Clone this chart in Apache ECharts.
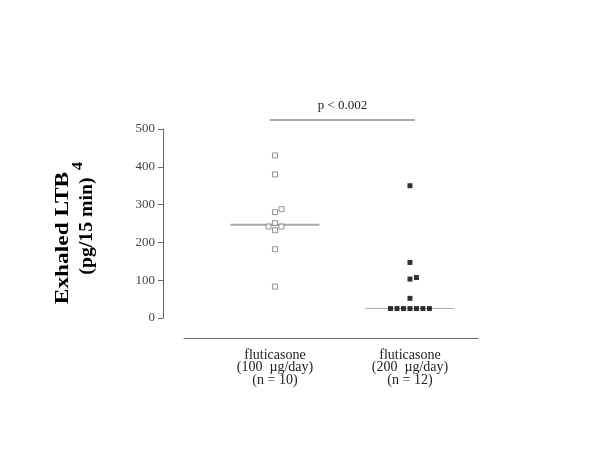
<!DOCTYPE html>
<html>
<head>
<meta charset="utf-8">
<script src="https://cdn.jsdelivr.net/npm/echarts@6/dist/echarts.min.js"></script>
<style>html,body{margin:0;padding:0;background:#fff}#c{width:600px;height:450px}</style>
</head>
<body>
<div id="c"></div>
<script>
// ---- data ----
var categories = ['fluticasone\n(100  \u00b5g/day)\n(n = 10)', 'fluticasone\n(200  \u00b5g/day)\n(n = 12)'];
var group1Values = [430, 380, 280, 288, 251, 242, 242, 232, 182, 83];
var group1Slots  = [0, 0, 0, 1, 0, -1, 1, 0, 0, 0];
var group2Values = [350, 147, 103, 107, 52, 25, 25, 25, 25, 25, 25, 25];
var group2Slots  = [0, 0, 0, 1, 0, -3, -2, -1, 0, 1, 2, 3];
var yTicks = [0, 100, 200, 300, 400, 500];
var pText = 'p < 0.002';
var pLevel = 524;      // bracket height in axis units
var pTextLevel = 561;

// ---- helpers ----
var step = 0.048;      // jitter column width (axis units)
var halfWidth = 0.33;  // half-width of median line
function median(a){var s=a.slice().sort(function(x,y){return x-y;});var n=s.length;return n%2?s[(n-1)/2]:(s[n/2-1]+s[n/2])/2;}
function pts(vals, slots, pos){return vals.map(function(v,i){return [pos + slots[i]*step, v];});}
var serif = '"Liberation Serif", "Times New Roman", serif';

var m1 = median(group1Values), m2 = median(group2Values);

var chart = echarts.init(document.getElementById('c'), null, {renderer:'canvas'});
chart.setOption({
  animation: false,
  backgroundColor: '#fff',
  grid: {left: 184, top: 129, width: 294, height: 189},
  xAxis: {
    type: 'value', min: 0.326, max: 2.504, offset: 20,
    axisLine: {show: true, onZero: false, lineStyle: {color: '#666', width: 1}},
    axisTick: {show: false},
    splitLine: {show: false},
    axisLabel: {
      customValues: [1, 2],
      margin: 11,
      fontFamily: serif, fontSize: 14, color: '#222', lineHeight: 12.5,
      formatter: function(v){ return categories[Math.round(v) - 1] || ''; }
    }
  },
  yAxis: {
    type: 'value', min: yTicks[0], max: yTicks[yTicks.length-1], interval: 100, offset: 21,
    axisLine: {show: true, onZero: false, lineStyle: {color: '#666', width: 1}},
    axisTick: {show: true, length: 5, lineStyle: {color: '#666'}},
    splitLine: {show: false},
    axisLabel: {margin: 8, fontFamily: serif, fontSize: 13, color: '#444'}
  },
  series: [
    {type: 'line', data: [[1-halfWidth, m1],[1+halfWidth, m1]], symbol: 'none',
     lineStyle: {color: '#aaa', width: 2}, z: 1, silent: true},
    {type: 'line', data: [[2-halfWidth, m2],[2+halfWidth, m2]], symbol: 'none',
     lineStyle: {color: '#aaa', width: 1}, z: 1, silent: true},
    {type: 'line', data: [[1-0.037, pLevel],[2+0.037, pLevel]], symbol: 'none', clip: false,
     lineStyle: {color: '#aaa', width: 2}, z: 1, silent: true},
    {type: 'scatter', data: pts(group1Values, group1Slots, 1), symbol: 'rect', symbolSize: 5,
     itemStyle: {color: '#fff', borderColor: '#777', borderWidth: 1}, z: 3},
    {type: 'scatter', data: pts(group2Values, group2Slots, 2), symbol: 'rect', symbolSize: 5,
     itemStyle: {color: '#000'}, z: 3}
  ]
});

var pp = chart.convertToPixel({gridIndex: 0}, [1.5, pTextLevel]);
chart.setOption({
  graphic: [
    {type: 'text', x: pp[0], y: pp[1], style: {text: pText, font: '13px ' + serif, fill: '#222', align: 'center', verticalAlign: 'middle'}},
    {type: 'text', x: 63, y: 238, rotation: Math.PI/2, scaleX: 1.3,
     style: {text: 'Exhaled LTB', font: 'bold 18px ' + serif, fill: '#000', align: 'center', verticalAlign: 'middle'}},
    {type: 'text', x: 78, y: 166, rotation: Math.PI/2, scaleX: 1.2,
     style: {text: '4', font: 'bold 14px ' + serif, fill: '#000', align: 'center', verticalAlign: 'middle'}},
    {type: 'text', x: 87, y: 226, rotation: Math.PI/2, scaleX: 1.1,
     style: {text: '(pg/15 min)', font: 'bold 18px ' + serif, fill: '#000', align: 'center', verticalAlign: 'middle'}}
  ]
});
</script>
</body>
</html>
